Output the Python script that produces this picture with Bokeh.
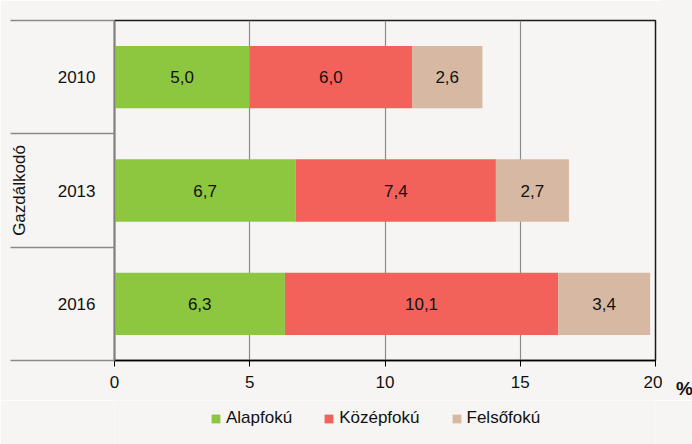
from bokeh.plotting import figure
from bokeh.layouts import column, row
from bokeh.models import (ColumnDataSource, FixedTicker, Legend, LegendItem,
                          LabelSet, Range1d, Div)
from bokeh.core.properties import value
from bokeh.embed import file_html
from bokeh.resources import INLINE

# ---- data ----
years = ["2010", "2013", "2016"]
alapfoku = [5.0, 6.7, 6.3]
kozepfoku = [6.0, 7.4, 10.1]
felsofoku = [2.6, 2.7, 3.4]
series_names = ["Alapfokú", "Középfokú", "Felsőfokú"]
colors = ["#8dc63f", "#f3625a", "#d7b8a3"]
x_ticks = [0, 5, 10, 15, 20]
y_title = "Gazdálkodó"
unit = "%"

FONT = "Liberation Sans"
FS = "17px"
BG = "#f6f5f3"
TXT = "#111111"

n = len(years)
ypos = [n - 1 - i + 0.5 for i in range(n)]  # 2010 on top

p = figure(width=662, height=400, output_backend="svg", toolbar_location=None,
           x_range=Range1d(0, 20), y_range=Range1d(0, n),
           min_border_left=114, min_border_right=7, min_border_top=20, min_border_bottom=40)
p.background_fill_color = BG
p.border_fill_color = BG
p.outline_line_color = "#1a1a1a"
p.outline_line_width = 1.5

series = [alapfoku, kozepfoku, felsofoku]
sources = []
left = [0.0] * n
for name, vals, col in zip(series_names, series, colors):
    right = [l + v for l, v in zip(left, vals)]
    src = ColumnDataSource(dict(
        y=ypos, left=left, right=right,
        mid=[(l + r) / 2 for l, r in zip(left, right)],
        txt=[f"{v:.1f}".replace(".", ",") for v in vals]))
    sources.append(src)
    p.hbar(y="y", left="left", right="right", height=0.55, source=src,
           fill_color=col, line_color=None)
    p.add_layout(LabelSet(x="mid", y="y", text="txt", source=src,
                          text_align="center", text_baseline="middle",
                          text_font=value(FONT), text_font_size=FS,
                          text_color=TXT))
    left = right

# x axis
xa = p.xaxis[0]
xa.ticker = FixedTicker(ticks=x_ticks, minor_ticks=[])
xa.axis_line_color = "#000000"
xa.axis_line_width = 1.5
xa.major_tick_out = 6
xa.major_tick_in = 0
xa.major_tick_line_color = "#000000"
xa.major_label_standoff = 9
xa.major_label_text_font = FONT
xa.major_label_text_font_size = FS
xa.major_label_text_color = TXT

# y axis: labels at centers, separators as minor ticks at boundaries
ya = p.yaxis[0]
ya.ticker = FixedTicker(ticks=ypos, minor_ticks=list(range(n + 1)))
ya.major_label_overrides = {y: lab for y, lab in zip(ypos, years)}
ya.major_tick_out = 0
ya.major_tick_in = 0
ya.minor_tick_out = 104
ya.minor_tick_in = 0
ya.minor_tick_line_color = "#8a8a8a"
ya.minor_tick_line_width = 1.5
ya.axis_line_color = "#7f7f7f"
ya.axis_line_width = 1.5
ya.major_label_standoff = -85
ya.major_label_text_font = FONT
ya.major_label_text_font_size = FS
ya.major_label_text_color = TXT
ya.axis_label = y_title
ya.axis_label_text_font = FONT
ya.axis_label_text_font_size = FS
ya.axis_label_text_font_style = "normal"
ya.axis_label_text_color = TXT
ya.axis_label_standoff = 26

p.ygrid.grid_line_color = None
p.xgrid.ticker = FixedTicker(ticks=x_ticks[1:-1])
p.xgrid.grid_line_color = "#8c8c8c"
p.xgrid.grid_line_width = 1.2

# unit label right of the x axis
unit_div = Div(text=unit, width=30, height=400, margin=0,
               styles={"background-color": BG, "padding-top": "379px",
                       "padding-left": "14px", "box-sizing": "border-box",
                       "font-family": FONT, "font-size": "19px", "font-weight": "bold",
                       "color": TXT, "line-height": "20px", "overflow": "visible"})

# ---- legend strip ----
p2 = figure(width=692, height=44, output_backend="svg", toolbar_location=None,
            x_range=Range1d(0, 20), y_range=Range1d(100, 101),
            x_axis_location=None, y_axis_location=None,
            min_border_left=114, min_border_right=37, min_border_top=0, min_border_bottom=0)
p2.background_fill_color = BG
p2.border_fill_color = BG
p2.outline_line_color = None
p2.grid.visible = False
items = []
for name, col, src in zip(series_names, colors, sources):
    r = p2.hbar(y="y", left="left", right="right", height=0.55, source=src,
                fill_color=col, line_color=None)
    items.append(LegendItem(label=name, renderers=[r]))
legend = Legend(items=items, orientation="horizontal", location=(96, 16),
                glyph_width=11, glyph_height=11, label_standoff=5, spacing=31,
                label_height=20,
                label_text_font=FONT, label_text_font_size=FS,
                label_text_color=TXT, background_fill_alpha=0,
                border_line_color=None, padding=0, margin=0)
p2.add_layout(legend)

layout = column(row(p, unit_div, spacing=0), p2, spacing=0)
open("out.html", "w").write(file_html(layout, INLINE))
